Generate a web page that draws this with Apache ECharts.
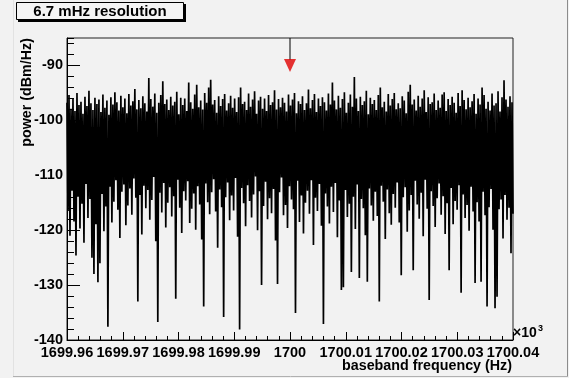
<!DOCTYPE html>
<html><head><meta charset="utf-8">
<script src="https://cdn.jsdelivr.net/npm/echarts@6/dist/echarts.min.js"></script>
<style>html,body{margin:0;padding:0;background:#f2f2f2}#c{width:569px;height:378px}</style>
</head><body><div id="c"></div>
<script>
// ---- data ----
const freqStart = 1699.96;   // kHz (axis shown x10^3 Hz)
const freqEnd = 1700.04;
const xTickStep = 0.01;
const yMin = -140, yMax = -85, yTickStep = 10, yMinorStep = 2;
const titleText = '6.7 mHz resolution';
const xTitle = 'baseband frequency (Hz)';
const yTitle = 'power (dBm/Hz)';
// upper (peak) samples of each bin pair, dBm/Hz
const upper = [
-96.8,-95.4,-97.9,-96.1,-98.3,-95.0,-97.2,-96.6,-98.8,-95.7,-97.4,-94.6,-96.9,-98.1,-95.9,-97.0,
-96.2,-98.5,-95.3,-97.7,-96.4,-99.0,-95.8,-97.1,-94.9,-96.7,-98.2,-95.5,-97.6,-96.0,-98.7,-95.2,
-97.3,-96.5,-94.3,-98.0,-96.3,-97.8,-95.6,-96.9,-98.4,-92.3,-96.1,-97.5,-95.1,-98.6,-96.8,-95.4,
-92.9,-97.0,-96.2,-98.1,-95.7,-97.3,-96.6,-94.8,-98.9,-95.9,-97.2,-96.0,-98.3,-93.1,-96.7,-97.9,
-95.3,-93.5,-97.6,-96.4,-98.0,-95.0,-96.8,-94.0,-92.6,-97.1,-96.3,-98.6,-95.6,-97.4,-96.1,-95.2,
-98.2,-96.9,-95.5,-97.7,-96.0,-98.5,-95.8,-94.0,-97.0,-96.6,-98.1,-95.1,-97.5,-96.2,-94.7,-98.8,
-96.4,-95.7,-97.9,-96.0,-98.3,-95.4,-97.2,-96.7,-94.5,-98.0,-96.1,-97.6,-95.9,-96.8,-98.4,-95.3,
-97.3,-96.2,-95.0,-98.7,-96.5,-97.0,-95.6,-98.1,-96.9,-94.4,-97.8,-96.3,-95.2,-98.5,-96.0,-97.4,
-95.8,-96.7,-98.2,-95.1,-97.1,-93.1,-96.4,-98.0,-95.5,-97.7,-96.1,-94.9,-98.6,-96.8,-95.3,-97.5,
-92.1,-96.0,-98.3,-95.7,-97.2,-96.5,-94.6,-98.9,-95.9,-97.0,-96.3,-98.1,-95.4,-94.0,-97.6,-96.6,
-98.4,-95.2,-97.3,-96.1,-95.0,-98.0,-96.9,-97.8,-95.6,-96.4,-98.7,-94.8,-93.5,-97.1,-96.2,-98.2,
-95.5,-97.5,-96.0,-94.5,-98.5,-95.8,-97.0,-96.7,-95.1,-98.1,-96.4,-97.7,-95.3,-94.9,-98.3,-96.1,
-97.2,-95.7,-96.8,-98.6,-95.0,-97.4,-94.5,-96.3,-98.0,-95.9,-97.6,-96.5,-95.2,-98.8,-96.0,-97.1,
-94.0,-95.4,-97.9,-96.6,-98.2,-95.1,-97.3,-96.9,-94.7,-98.4,-95.8,-92.7,-96.2,-97.5,-95.6,-96.7
];
// lower (dip) samples of each bin pair, dBm/Hz
const lower = [
-116.5,-121.0,-112.8,-118.4,-124.6,-113.9,-119.7,-115.2,-122.3,-111.6,-117.8,-114.3,-125.0,-128.0,-118.9,-129.5,
-126.0,-113.4,-120.2,-115.7,-137.6,-112.1,-118.6,-114.8,-110.9,-116.3,-121.4,-113.0,-111.7,-119.1,-115.5,-112.4,
-117.2,-110.6,-114.1,-133.0,-113.6,-120.8,-111.9,-116.0,-112.7,-118.1,-114.5,-110.3,-122.0,-136.7,-113.2,-116.8,
-111.4,-119.5,-115.0,-112.2,-117.5,-113.8,-132.5,-110.8,-115.9,-120.5,-112.9,-114.6,-111.1,-118.7,-116.1,-113.3,
-119.9,-112.0,-115.3,-121.7,-133.9,-111.5,-114.9,-117.1,-113.1,-110.7,-116.6,-123.2,-112.6,-115.8,-135.8,-114.0,
-111.3,-118.2,-113.7,-116.4,-110.5,-121.2,-138.1,-112.3,-115.1,-119.3,-111.8,-114.7,-117.7,-113.5,-110.2,-120.0,
-112.9,-130.0,-115.6,-111.2,-118.0,-114.2,-116.9,-112.5,-121.9,-129.8,-113.1,-110.4,-117.3,-115.4,-119.6,-112.0,
-114.4,-116.2,-135.1,-111.0,-118.5,-113.7,-120.6,-115.0,-112.8,-117.0,-110.9,-122.7,-114.1,-116.5,-111.6,-119.2,
-137.1,-113.3,-115.7,-118.8,-112.1,-116.7,-111.4,-121.3,-114.6,-130.9,-130.4,-112.7,-117.6,-115.2,-127.6,-113.9,
-119.8,-111.7,-128.7,-114.3,-116.0,-120.9,-129.4,-112.4,-115.5,-118.3,-113.0,-117.4,-133.0,-111.9,-114.8,-121.6,
-112.6,-116.9,-119.0,-113.4,-115.9,-111.3,-118.6,-128.2,-114.0,-112.2,-120.3,-116.4,-113.6,-127.3,-111.0,-115.3,
-117.9,-113.2,-121.1,-110.8,-116.1,-132.7,-112.9,-115.6,-119.4,-114.2,-111.5,-117.2,-113.8,-120.7,-115.1,-127.3,
-112.3,-118.9,-114.7,-116.3,-111.8,-131.4,-113.5,-117.8,-115.4,-120.1,-112.1,-116.6,-129.6,-114.9,-118.4,-129.4,
-113.0,-117.3,-133.9,-115.8,-112.5,-119.9,-134.2,-132.1,-116.2,-114.4,-121.5,-113.6,-118.1,-115.9,-124.2,-117.0
];
const markerFreq = [1700.0];
const markerPower = [-90];
const arrowFrom = [-85];
const arrowTo = [-89];

// ---- build series data (bins evenly spaced across the span) ----
const nBins = upper.length + lower.length;
const binStep = (freqEnd - freqStart) / (nBins - 1);
const spectrum = [];
for (let k = 0; k < upper.length; k++) {
  spectrum.push([freqStart + (2 * k) * binStep, upper[k]]);
  spectrum.push([freqStart + (2 * k + 1) * binStep, lower[k]]);
}

const FONT = 'Liberation Sans, Arial, Helvetica, sans-serif';
const chart = echarts.init(document.getElementById('c'), null, {renderer: 'canvas'});
const gridLeft = 67, gridTop = 38, gridW = 446, gridH = 302;
chart.setOption({
  animation: false,
  backgroundColor: '#f2f2f2',
  grid: {left: gridLeft, top: gridTop, width: gridW, height: gridH, show: true,
         borderColor: '#222', borderWidth: 1, backgroundColor: 'transparent', containLabel: false},
  xAxis: {
    type: 'value', min: freqStart, max: freqEnd, interval: xTickStep,
    axisLine: {show: true, lineStyle: {color: '#000', width: 1}},
    axisTick: {show: true, inside: true, length: 8, lineStyle: {color: '#000'}},
    minorTick: {show: true, splitNumber: 5, length: 4, lineStyle: {color: '#000'}},
    splitLine: {show: false},
    axisLabel: {show: true, margin: 5, color: '#000', fontFamily: FONT, fontWeight: 'bold', fontSize: 14.5,
      showMinLabel: true, showMaxLabel: true,
      formatter: v => String(parseFloat(v.toFixed(2)))}
  },
  yAxis: [{
    type: 'value', min: yMin, max: yMax, interval: yTickStep, position: 'left',
    axisLine: {show: true, lineStyle: {color: '#000', width: 1}},
    axisTick: {show: true, inside: true, length: 13, lineStyle: {color: '#000'}},
    minorTick: {show: false},
    splitLine: {show: false},
    axisLabel: {show: true, margin: 4, color: '#000', fontFamily: FONT, fontWeight: 'bold', fontSize: 14.5,
      showMaxLabel: false, showMinLabel: true}
  }, {
    type: 'value', min: yMin, max: yMax, interval: yMinorStep, position: 'left', offset: 0,
    alignTicks: false,
    axisLine: {show: false},
    axisTick: {show: true, inside: true, length: 7, lineStyle: {color: '#000'}},
    splitLine: {show: false},
    axisLabel: {show: false}
  }],
  series: [{
    type: 'line', data: spectrum, showSymbol: false, symbol: 'none', sampling: false,
    lineStyle: {color: '#000', width: 1.7}, clip: true, silent: true, z: 2
  }, {
    type: 'line', data: [[markerFreq[0], arrowFrom[0]], [markerFreq[0], arrowTo[0]]],
    showSymbol: false, symbol: 'none', lineStyle: {color: '#000', width: 1}, silent: true, z: 3
  }, {
    type: 'scatter', data: markerFreq.map((f, i) => [f, markerPower[i]]),
    symbol: 'triangle', symbolRotate: 180, symbolSize: [12, 13],
    itemStyle: {color: '#e00000'}, silent: true, z: 4
  }],
  graphic: [
    {type: 'line', shape: {x1: 567.5, y1: 0, x2: 567.5, y2: 377}, style: {stroke: '#8c8c8c', lineWidth: 1}, silent: true},
    {type: 'line', shape: {x1: 13, y1: 376.5, x2: 568, y2: 376.5}, style: {stroke: '#b0b0b0', lineWidth: 1}, silent: true},
    {type: 'line', shape: {x1: 13.5, y1: 0, x2: 13.5, y2: 376}, style: {stroke: '#e2e2e2', lineWidth: 1}, silent: true},
    {type: 'rect', shape: {x: 18, y: 4, width: 168, height: 18}, style: {fill: '#000'}, silent: true},
    {type: 'rect', shape: {x: 16.5, y: 2.5, width: 167, height: 17}, style: {fill: '#f4f4f4', stroke: '#000', lineWidth: 1}, silent: true},
    {type: 'text', x: 100, y: 11.5, style: {text: titleText, font: 'bold 15px ' + FONT, fill: '#000',
      textAlign: 'center', textVerticalAlign: 'middle'}, silent: true},
    {type: 'text', x: 512, y: 366, style: {text: xTitle, font: 'bold 14.3px ' + FONT, fill: '#000',
      textAlign: 'right', textVerticalAlign: 'middle'}, silent: true},
    {type: 'text', x: 27, y: 38, rotation: Math.PI / 2, style: {text: yTitle, font: 'bold 14.3px ' + FONT, fill: '#000',
      textAlign: 'right', textVerticalAlign: 'middle'}, silent: true},
    {type: 'text', x: 513, y: 333, style: {text: '\u00d710', font: 'bold 14px ' + FONT, fill: '#000',
      textAlign: 'left', textVerticalAlign: 'middle'}, silent: true},
    {type: 'text', x: 538, y: 329, style: {text: '3', font: 'bold 9px ' + FONT, fill: '#000',
      textAlign: 'left', textVerticalAlign: 'middle'}, silent: true}
  ]
});
</script>
</body></html>
